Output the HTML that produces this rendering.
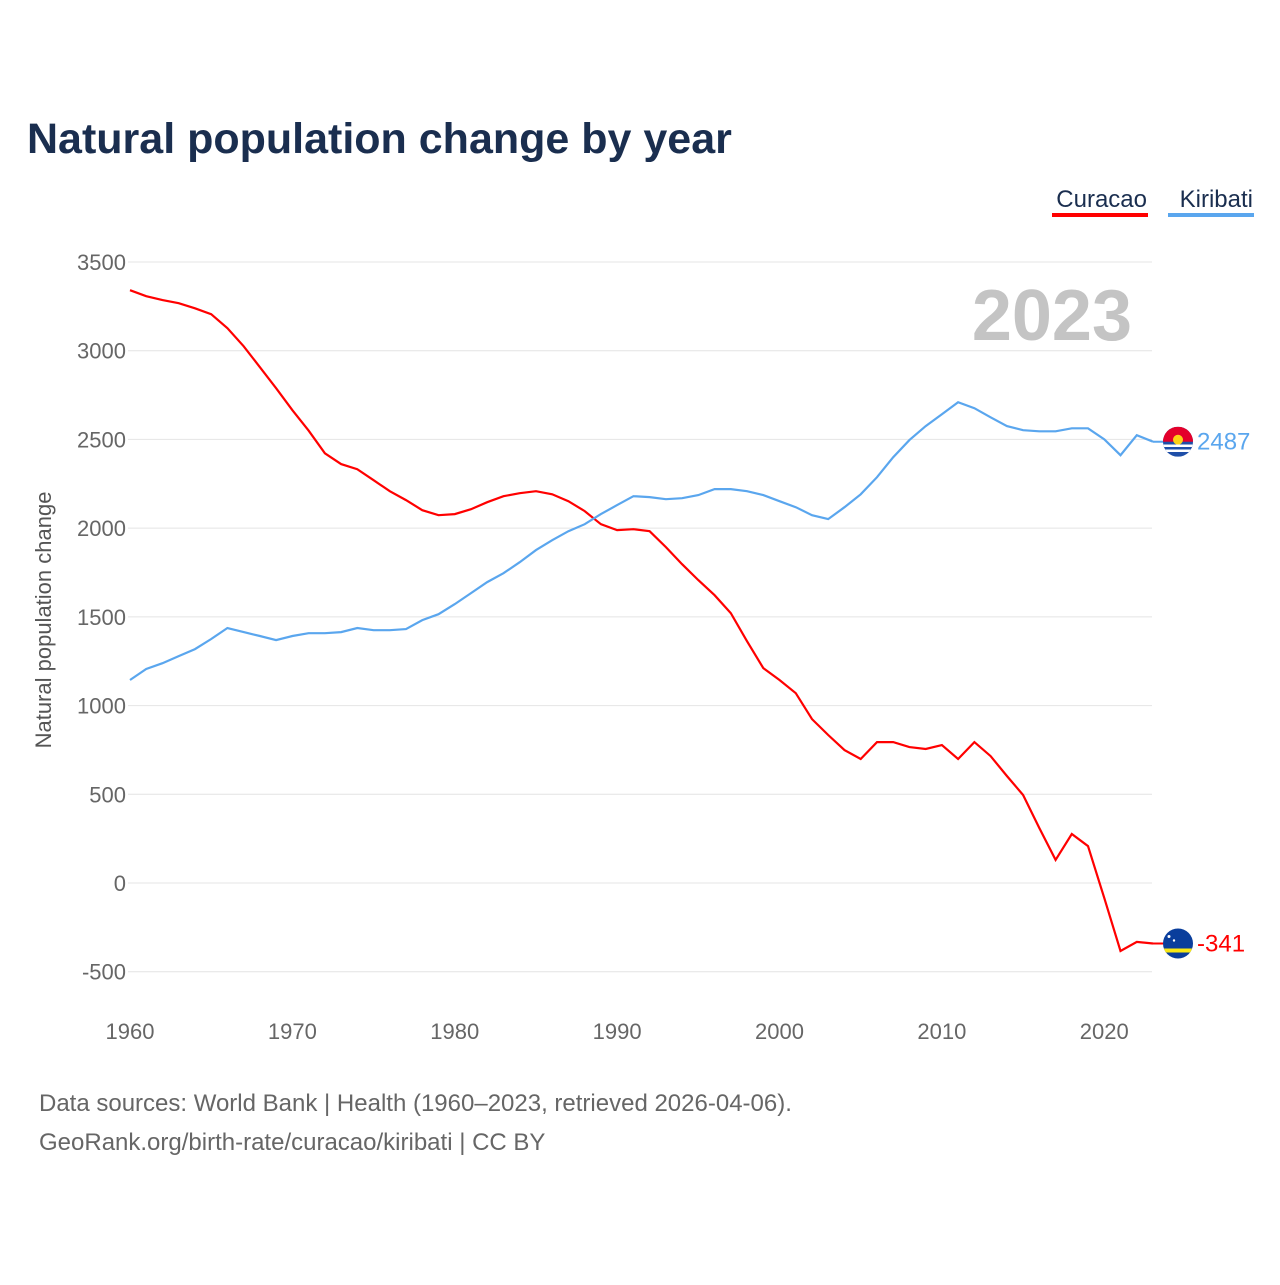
<!DOCTYPE html>
<html><head><meta charset="utf-8"><style>
body{margin:0;background:#fff;width:1280px;height:1280px;overflow:hidden;font-family:"Liberation Sans",sans-serif}
</style></head><body>
<svg width="1280" height="1280" xmlns="http://www.w3.org/2000/svg">
<text x="27" y="153" font-size="43" font-weight="bold" fill="#1a2e4f">Natural population change by year</text>
<g><text x="1147" y="207" text-anchor="end" font-size="24" fill="#1a2e4f">Curacao</text><rect x="1052" y="213" width="96" height="4" fill="#f00"/></g>
<g><text x="1253" y="207" text-anchor="end" font-size="24" fill="#1a2e4f">Kiribati</text><rect x="1168" y="213" width="86" height="4" fill="#5aa6ee"/></g>
<text x="1132" y="340" text-anchor="end" font-size="72" font-weight="bold" fill="#c4c4c4">2023</text>
<g id="grid"></g><g id="yt"></g><g id="xt"></g>
<text transform="translate(51,620) rotate(-90)" text-anchor="middle" font-size="22" fill="#555">Natural population change</text>
<path id="red" fill="none" stroke="#f00" stroke-width="2.2"/>
<path id="blue" fill="none" stroke="#5aa6ee" stroke-width="2.2"/>
<g id="ends"></g>
<text x="39" y="1111" font-size="24" fill="#666">Data sources: World Bank | Health (1960–2023, retrieved 2026-04-06).</text>
<text x="39" y="1150" font-size="24" fill="#666">GeoRank.org/birth-rate/curacao/kiribati | CC BY</text>
</svg>
<script>
const years=[];for(let y=1960;y<=2023;y++)years.push(y);
const curacao=[3341,3307,3285,3268,3239,3206,3127,3025,2907,2789,2665,2550,2422,2361,2332,2270,2208,2158,2101,2073,2079,2107,2146,2180,2197,2208,2191,2152,2096,2022,1989,1994,1983,1893,1797,1707,1622,1521,1363,1211,1144,1070,924,834,749,699,794,794,766,755,777,699,794,715,603,496,310,130,276,208,-85,-383,-332,-341];
const kiribati=[1144,1206,1239,1279,1318,1375,1437,1414,1392,1369,1392,1408,1408,1414,1437,1425,1425,1431,1482,1515,1572,1634,1696,1746,1808,1876,1932,1983,2022,2079,2130,2180,2175,2163,2169,2186,2220,2220,2208,2186,2152,2118,2073,2051,2118,2191,2287,2400,2496,2575,2642,2710,2676,2625,2575,2552,2546,2546,2563,2563,2501,2411,2524,2487];
const yTicks=[-500,0,500,1000,1500,2000,2500,3000,3500];
const xTicks=[1960,1970,1980,1990,2000,2010,2020];
const X=y=>130+(y-1960)*(1153-130)/63;
const Y=v=>883-v*(883-262)/3500;
const NS='http://www.w3.org/2000/svg';
function mk(t,a,p){const e=document.createElementNS(NS,t);for(const k in a)e.setAttribute(k,a[k]);p.appendChild(e);return e;}
const grid=document.getElementById('grid'),yt=document.getElementById('yt'),xt=document.getElementById('xt');
yTicks.forEach(v=>{
 const l=mk('line',{x1:128,x2:1152,y1:Y(v),y2:Y(v),stroke:'#e4e4e4','stroke-width':1},grid);
 
 
 const t=mk('text',{x:126,y:Y(v)+8,'text-anchor':'end','font-size':22,fill:'#666'},yt);t.textContent=v;
 
 
});
xTicks.forEach(v=>{
 const t=mk('text',{x:X(v),y:1039,'text-anchor':'middle','font-size':22,fill:'#666'},xt);t.textContent=v;
 
 
});
const path=a=>a.map((v,i)=>(i?'L':'M')+X(years[i]).toFixed(1)+','+Y(v).toFixed(1)).join('');
document.getElementById('red').setAttribute('d',path(curacao));
document.getElementById('blue').setAttribute('d',path(kiribati));
const ends=document.getElementById('ends');
const lr=curacao[curacao.length-1],lb=kiribati[kiribati.length-1],xe=X(2023);
const fx=1178;
ends.innerHTML=
`<line x1="${xe}" x2="${fx}" y1="${Y(lb)}" y2="${Y(lb)}" stroke="#5aa6ee" stroke-width="2"/>
<line x1="${xe}" x2="${fx}" y1="${Y(lr)}" y2="${Y(lr)}" stroke="#f00" stroke-width="2"/>
<clipPath id="ck"><circle cx="${fx}" cy="${Y(lb)}" r="15"/></clipPath>
<g clip-path="url(#ck)"><rect x="${fx-15}" y="${Y(lb)-15}" width="30" height="30" fill="#1f4fa8"/><rect x="${fx-15}" y="${Y(lb)-15}" width="30" height="15" fill="#e4002b"/><circle cx="${fx}" cy="${Y(lb)-2}" r="5" fill="#fcd116"/><path d="M${fx-15},${Y(lb)+4}h30M${fx-15},${Y(lb)+9}h30" stroke="#fff" stroke-width="2.5"/></g>
<clipPath id="cc"><circle cx="${fx}" cy="${Y(lr)}" r="15"/></clipPath>
<g clip-path="url(#cc)"><rect x="${fx-15}" y="${Y(lr)-15}" width="30" height="30" fill="#0a3e9c"/><rect x="${fx-15}" y="${Y(lr)+5}" width="30" height="4" fill="#f9e814"/><circle cx="${fx-9}" cy="${Y(lr)-7}" r="1.5" fill="#fff"/><circle cx="${fx-4}" cy="${Y(lr)-3}" r="1.2" fill="#fff"/></g>
<text x="1197" y="${Y(lb)+8}" font-size="24" fill="#5aa6ee">${lb}</text>
<text x="1197" y="${Y(lr)+8}" font-size="24" fill="#f00">${lr}</text>`;
</script>
</body></html>
